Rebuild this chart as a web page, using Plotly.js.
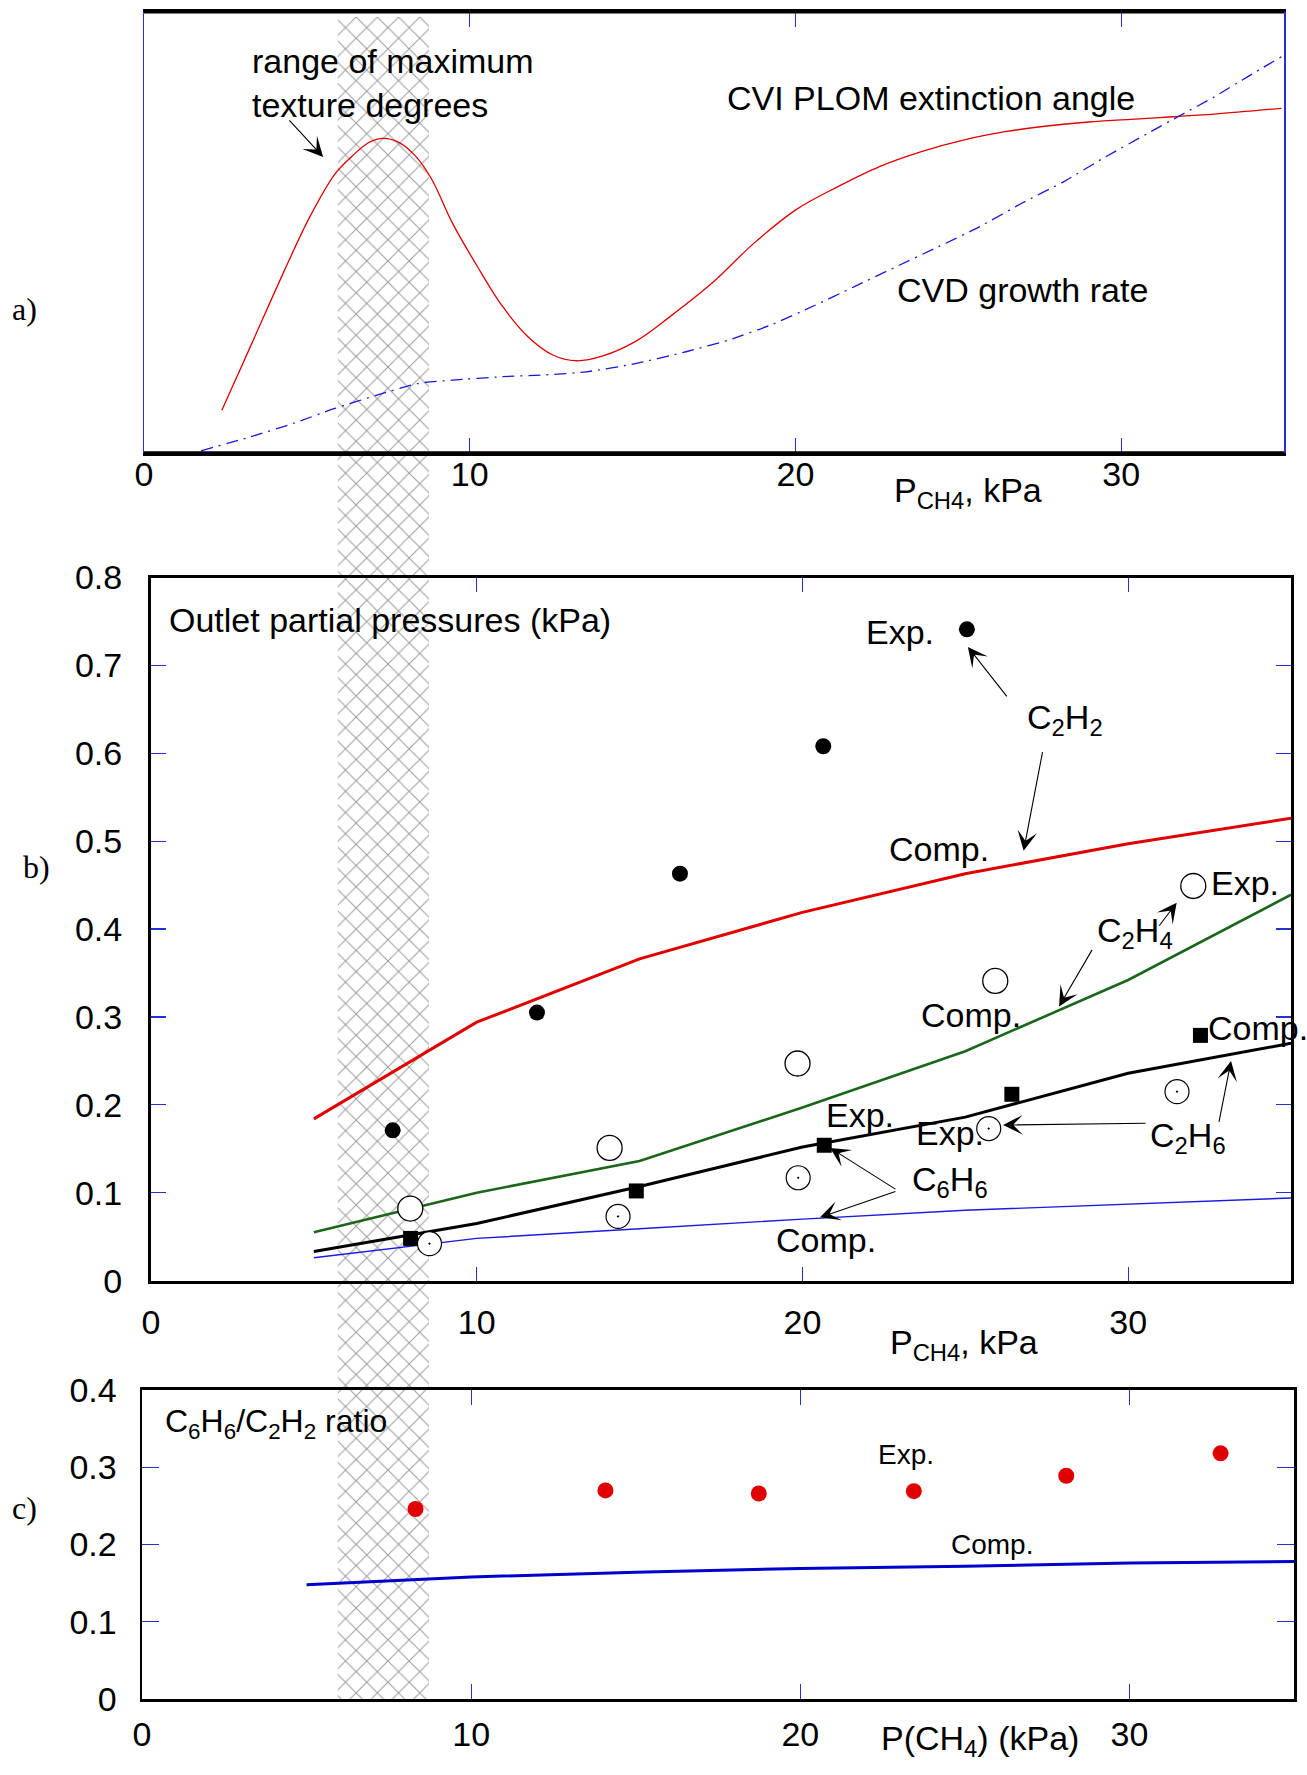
<!DOCTYPE html>
<html>
<head>
<meta charset="utf-8">
<script src="https://cdn.plot.ly/plotly-3.0.1.min.js"></script>
<style>html,body{margin:0;padding:0;background:#fff;}#chart{width:1307px;height:1775px;}</style>
</head>
<body>
<div id="chart"></div>
<script>
// ---------- data ----------
// panel a (relative units)
const aRedX  = [2.39,3.29,4.32,5.09,5.86,6.38,6.89,7.33,7.79,8.31,8.82,9.47,10.24,11.01,11.78,12.55,13.27,14.09,15.12,16.15,17.44,18.72,20.01,21.29,22.58,23.87,25.15,26.44,27.72,29.01,30.29,31.58,32.86,34.92];
const aRedY  = [0.097,0.245,0.415,0.535,0.632,0.672,0.703,0.713,0.705,0.675,0.622,0.521,0.422,0.332,0.264,0.222,0.209,0.220,0.254,0.309,0.385,0.475,0.551,0.603,0.649,0.683,0.709,0.728,0.741,0.750,0.756,0.762,0.768,0.781];
const aBlueX = [1.75,3.29,4.58,5.86,7.15,8.44,9.47,11.01,12.29,13.58,15.12,16.67,17.95,19.24,20.52,21.81,23.09,24.38,25.66,26.95,28.24,29.52,30.81,31.84,32.86,33.89,34.92];
const aBlueY = [0.005,0.037,0.067,0.101,0.131,0.158,0.165,0.173,0.177,0.184,0.203,0.230,0.256,0.290,0.332,0.377,0.422,0.467,0.513,0.566,0.615,0.671,0.724,0.766,0.807,0.853,0.898];
const hatchRange = [5.95, 8.75];

// panel b (kPa)
const compX    = [5,10,15,20,25,30,35];
const c2h2Comp = [0.184,0.294,0.366,0.419,0.463,0.497,0.526];
const c2h4Comp = [0.055,0.100,0.136,0.197,0.261,0.342,0.439];
const c2h6Comp = [0.033,0.065,0.107,0.152,0.186,0.236,0.270];
const c6h6Comp = [0.026,0.048,0.059,0.070,0.080,0.087,0.094];
const c2h2ExpX = [7.42,11.85,16.24,20.64,25.05];
const c2h2Exp  = [0.171,0.305,0.463,0.608,0.741];
const c2h4ExpX = [7.96,14.08,19.85,25.92,32.0];
const c2h4Exp  = [0.082,0.151,0.247,0.341,0.449];
const c2h6ExpX = [8.55,14.34,19.87,25.72,31.5];
const c2h6Exp  = [0.042,0.073,0.117,0.173,0.215];
const c6h6ExpX = [7.97,14.9,20.67,26.43,32.22];
const c6h6Exp  = [0.048,0.102,0.154,0.212,0.279];

// panel c (ratio)
const ratioExpX = [8.31,14.08,18.74,23.45,28.08,32.77];
const ratioExp  = [0.246,0.270,0.266,0.269,0.289,0.318];
const ratioComp = [0.148,0.158,0.164,0.169,0.172,0.176,0.178];

const xTicks = [0,10,20,30];

// ---------- layout helpers ----------
const FONT = 'Liberation Sans, Arial, Helvetica, sans-serif';
const SERIF = 'Liberation Serif, Times New Roman, serif';
const TICKBLUE = '#2233cc';
const TF = 34;

const traces = [
  // hatch band across the whole figure (overlay subplot x/y)
  {type:'bar', x:[(hatchRange[0]+hatchRange[1])/2], width:[hatchRange[1]-hatchRange[0]], y:[1], base:[0],
   xaxis:'x', yaxis:'y', hoverinfo:'skip', showlegend:false,
   marker:{color:'#ffffff', line:{width:0},
     pattern:{shape:'x', fgcolor:'#9c9c9c', bgcolor:'#ffffff', size:15, solidity:0.13, fillmode:'replace'}}},
  // panel a
  {type:'scatter', mode:'lines', x:aRedX, y:aRedY, xaxis:'x2', yaxis:'y2',
   line:{color:'#e00000', width:1.3, shape:'spline', smoothing:1}, showlegend:false},
  {type:'scatter', mode:'lines', x:aBlueX, y:aBlueY, xaxis:'x2', yaxis:'y2',
   line:{color:'#1818d8', width:1.3, dash:'12px,6px,2px,6px', shape:'spline', smoothing:0.6}, showlegend:false},
  // panel b lines
  {type:'scatter', mode:'lines', x:compX, y:c6h6Comp, xaxis:'x3', yaxis:'y3', line:{color:'#1a1ae0', width:1.4}, showlegend:false},
  {type:'scatter', mode:'lines', x:compX, y:c2h2Comp, xaxis:'x3', yaxis:'y3', line:{color:'#e00000', width:3}, showlegend:false},
  {type:'scatter', mode:'lines', x:compX, y:c2h4Comp, xaxis:'x3', yaxis:'y3', line:{color:'#1a661a', width:2.6}, showlegend:false},
  {type:'scatter', mode:'lines', x:compX, y:c2h6Comp, xaxis:'x3', yaxis:'y3', line:{color:'#000000', width:3}, showlegend:false},
  // panel b markers
  {type:'scatter', mode:'markers', x:c2h2ExpX, y:c2h2Exp, xaxis:'x3', yaxis:'y3', cliponaxis:false,
   marker:{symbol:'circle', size:16, color:'#000'}, showlegend:false},
  {type:'scatter', mode:'markers', x:c6h6ExpX, y:c6h6Exp, xaxis:'x3', yaxis:'y3', cliponaxis:false,
   marker:{symbol:'square', size:15, color:'#000'}, showlegend:false},
  {type:'scatter', mode:'markers', x:c2h4ExpX, y:c2h4Exp, xaxis:'x3', yaxis:'y3', cliponaxis:false,
   marker:{symbol:'circle', size:25, color:'#fff', line:{color:'#000', width:1.3}}, showlegend:false},
  {type:'scatter', mode:'markers', x:c2h6ExpX, y:c2h6Exp, xaxis:'x3', yaxis:'y3', cliponaxis:false,
   marker:{symbol:'circle-dot', size:24, color:'#fff', line:{color:'#000', width:1.2}}, showlegend:false},
  // panel c
  {type:'scatter', mode:'lines', x:compX, y:ratioComp, xaxis:'x4', yaxis:'y4', line:{color:'#0000cc', width:3}, showlegend:false},
  {type:'scatter', mode:'markers', x:ratioExpX, y:ratioExp, xaxis:'x4', yaxis:'y4',
   marker:{symbol:'circle', size:16, color:'#e00000'}, showlegend:false}
];

const H = 1775, W = 1307;
const py = v => 1 - v / H;
const px = v => v / W;

function xAx(dom, anchor, len, standoff, lw, lc) {
  return {domain:dom, anchor:anchor, range:[0,35], tickvals:xTicks, ticks:'inside', ticklen:len, tickwidth:1.2,
    tickcolor:TICKBLUE, showline:true, linecolor:lc||'#000', linewidth:lw||3, mirror:'allticks', showgrid:false, zeroline:false,
    tickfont:{family:FONT, size:TF, color:'#000'}, ticklabelstandoff:standoff, fixedrange:true};
}

const layout = {
  width:W, height:H, margin:{l:0,r:0,t:0,b:0},
  paper_bgcolor:'#fff', plot_bgcolor:'rgba(0,0,0,0)', showlegend:false,
  font:{family:FONT, size:32, color:'#000'},
  // hatch overlay axes
  xaxis:{domain:[px(144),px(1284)], range:[0,35], visible:false, fixedrange:true, anchor:'y'},
  yaxis:{domain:[py(1699),py(17)], range:[0,1], visible:false, fixedrange:true, anchor:'x'},
  // panel a
  xaxis2:xAx([px(144),px(1284)], 'y2', 15, -11),
  yaxis2:{domain:[py(453),py(11.7)], anchor:'x2', range:[0,1], showticklabels:false, ticks:'', showline:true,
    linecolor:'#2a2ae0', linewidth:1.5, mirror:true, showgrid:false, zeroline:false, fixedrange:true},
  // panel b
  xaxis3:xAx([px(151),px(1291)], 'y3', 14, 10),
  yaxis3:{domain:[py(1280.6),py(577.5)], anchor:'x3', range:[0,0.8], dtick:0.1, tick0:0, ticks:'inside', ticklen:15, tickwidth:1.2,
    tickcolor:TICKBLUE, showline:true, linecolor:'#000', linewidth:3, mirror:'allticks', showgrid:false, zeroline:false,
    tickfont:{family:FONT, size:TF, color:'#000'}, ticklabelstandoff:19, fixedrange:true},
  // panel c
  xaxis4:xAx([px(142),px(1294)], 'y4', 15, 3),
  yaxis4:{domain:[py(1699),py(1390)], anchor:'x4', range:[0,0.4], dtick:0.1, tick0:0, ticks:'inside', ticklen:17, tickwidth:1.2,
    tickcolor:TICKBLUE, showline:true, linecolor:'#000', linewidth:2.5, mirror:'allticks', showgrid:false, zeroline:false,
    tickfont:{family:FONT, size:TF, color:'#000'}, ticklabelstandoff:16, fixedrange:true},
  shapes:[
    {type:'line', xref:'x2 domain', yref:'y2 domain', x0:0, x1:1, y0:1, y1:1, line:{color:'#000', width:3.5}, layer:'above'},
    {type:'line', xref:'x2 domain', yref:'y2 domain', x0:0, x1:1, y0:0, y1:0, line:{color:'#000', width:3.5}, layer:'above'}
  ],
  annotations:[]
};

const A = layout.annotations;
function txt(xr, yr, x, y, text, opts) {
  A.push(Object.assign({xref:xr, yref:yr, x:x, y:y, text:text, showarrow:false, xanchor:'center', yanchor:'middle',
    font:{family:FONT, size:34, color:'#000'}}, opts||{}));
}
function arrow(xr, yr, x, y, ax, ay) {
  A.push({xref:xr, yref:yr, axref:xr, ayref:yr, x:x, y:y, ax:ax, ay:ay, text:'', showarrow:true,
    arrowhead:3, arrowsize:3, arrowwidth:1.1, arrowcolor:'#000', standoff:0, startstandoff:0});
}

// panel labels
txt('paper','paper', px(24), py(309), 'a)', {font:{family:SERIF, size:32, color:'#000'}});
txt('paper','paper', px(36), py(867), 'b)', {font:{family:SERIF, size:32, color:'#000'}});
txt('paper','paper', px(24), py(1508), 'c)', {font:{family:SERIF, size:32, color:'#000'}});

// axis titles
txt('x2','paper', 22.97, py(492), 'P<sub>CH4</sub>, kPa', {xanchor:'left'});
txt('x3','paper', 22.63, py(1344), 'P<sub>CH4</sub>, kPa', {xanchor:'left'});
txt('x4','paper', 22.39, py(1740), 'P(CH<sub>4</sub>) (kPa)', {xanchor:'left'});

// panel a texts
txt('x2','y2', 3.25, 0.838, 'range of maximum<br>texture degrees', {xanchor:'left', align:'left'});
txt('x2','y2', 17.85, 0.804, 'CVI PLOM extinction angle', {xanchor:'left'});
txt('x2','y2', 23.05, 0.369, 'CVD growth rate', {xanchor:'left'});
arrow('x2','y2', 5.5, 0.671, 4.42, 0.757);

// panel b texts
txt('x3','y3', 0.5, 0.7515, 'Outlet partial pressures (kPa)', {xanchor:'left'});
txt('x3','y3', 22.99, 0.738, 'Exp.');
txt('x3','y3', 26.83, 0.639, 'C<sub>2</sub>H<sub>2</sub>', {xanchor:'left'});
txt('x3','y3', 24.18, 0.4915, 'Comp.');
txt('x3','y3', 33.6, 0.4523, 'Exp.');
txt('x3','y3', 28.98, 0.3957, 'C<sub>2</sub>H<sub>4</sub>', {xanchor:'left'});
txt('x3','y3', 25.19, 0.302, 'Comp.');
txt('x3','y3', 32.39, 0.2877, 'Comp.', {xanchor:'left'});
txt('x3','y3', 30.61, 0.1625, 'C<sub>2</sub>H<sub>6</sub>', {xanchor:'left'});
txt('x3','y3', 24.53, 0.1678, 'Exp.');
txt('x3','y3', 21.77, 0.1884, 'Exp.');
txt('x3','y3', 23.3, 0.1126, 'C<sub>6</sub>H<sub>6</sub>', {xanchor:'left'});
txt('x3','y3', 20.72, 0.0462, 'Comp.');
arrow('x3','y3', 25.08, 0.721, 26.31, 0.663);
arrow('x3','y3', 26.79, 0.489, 27.38, 0.603);
arrow('x3','y3', 31.49, 0.430, 30.92, 0.402);
arrow('x3','y3', 27.88, 0.312, 28.92, 0.378);
arrow('x3','y3', 33.16, 0.250, 32.78, 0.179);
arrow('x3','y3', 26.16, 0.177, 30.58, 0.179);
arrow('x3','y3', 20.85, 0.151, 22.9, 0.103);
arrow('x3','y3', 20.54, 0.072, 22.9, 0.102);

// panel c texts
txt('x4','y4', 0.64, 0.356, 'C<sub>6</sub>H<sub>6</sub>/C<sub>2</sub>H<sub>2</sub> ratio', {xanchor:'left', font:{family:FONT, size:32, color:'#000'}});
txt('x4','y4', 23.2, 0.316, 'Exp.', {font:{family:FONT, size:28, color:'#000'}});
txt('x4','y4', 25.83, 0.1994, 'Comp.', {font:{family:FONT, size:28, color:'#000'}});

Plotly.newPlot('chart', traces, layout, {staticPlot:true, displayModeBar:false});
</script>
</body>
</html>
